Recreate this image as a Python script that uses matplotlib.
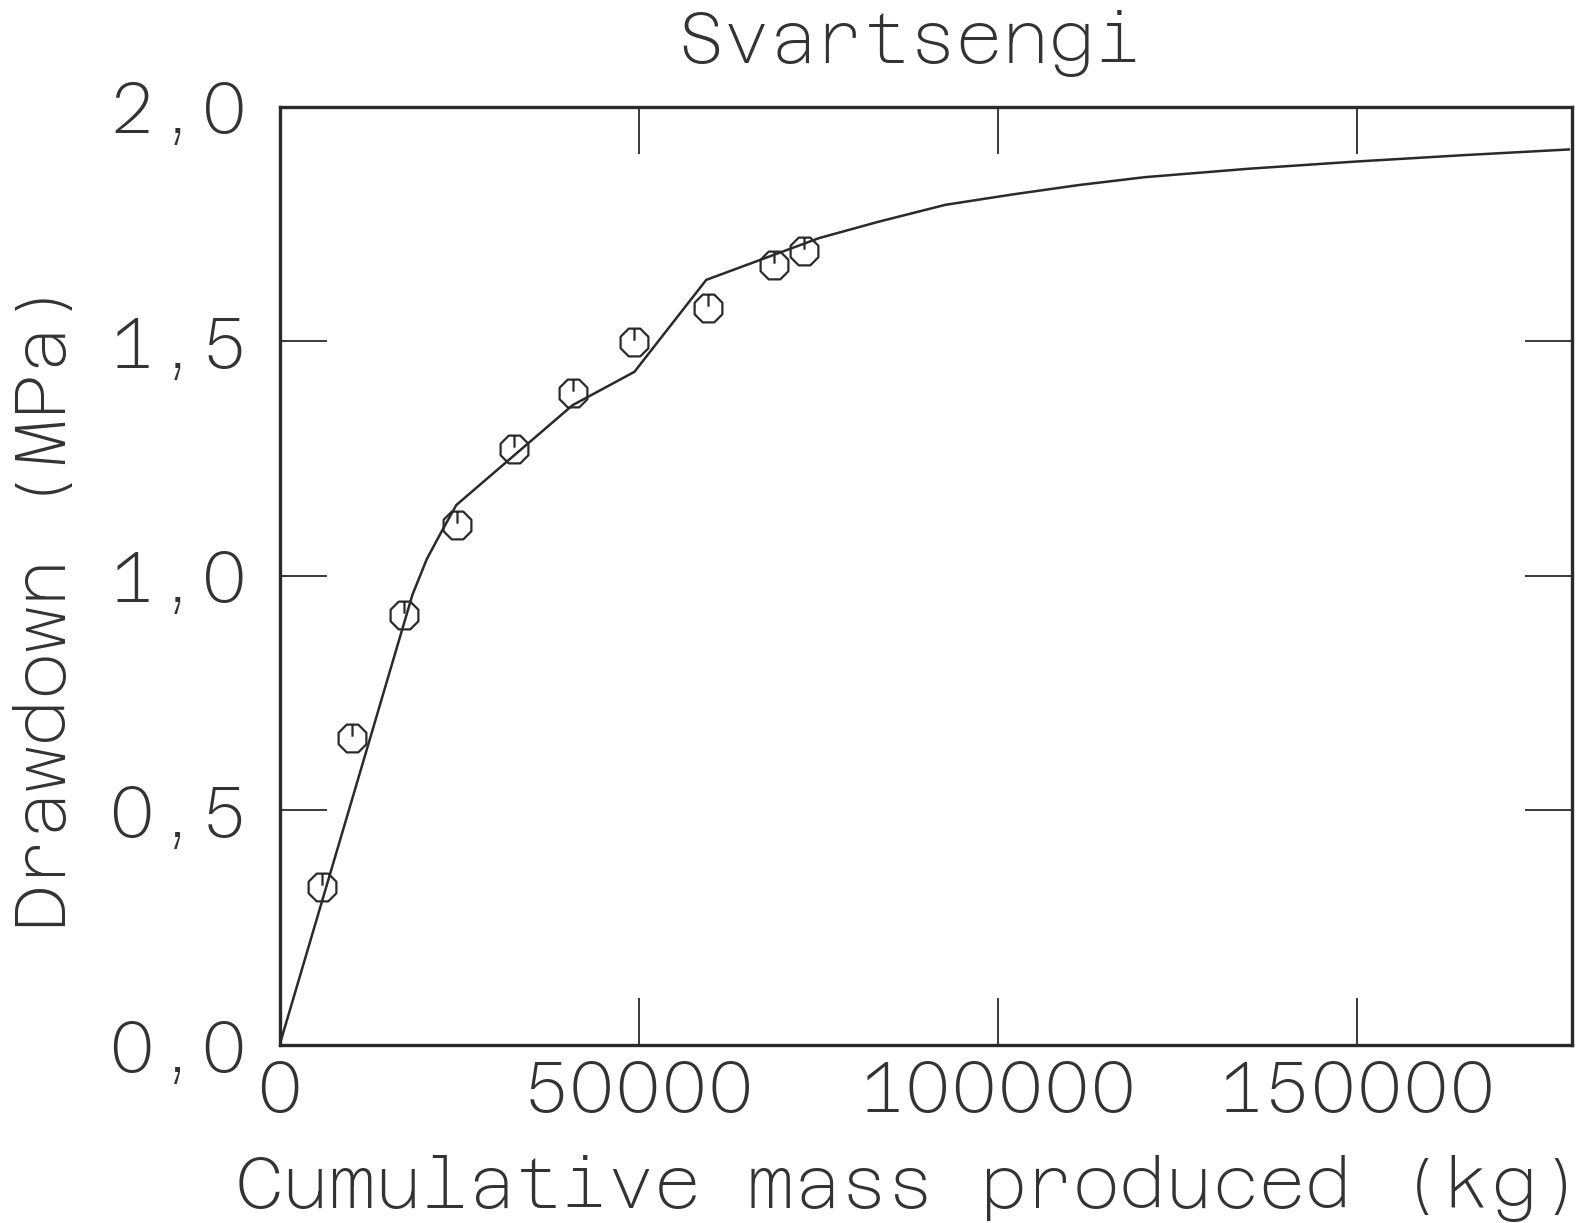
import numpy as np
import matplotlib.pyplot as plt
from matplotlib.path import Path

plt.rcParams['font.family'] = ['Azeret Mono', 'DejaVu Sans Mono']

# measured points (octagon markers)
mass = [5850, 10150, 17300, 24700, 32600, 40800, 49400, 59600, 68800, 73000]
drawdown = [0.336, 0.655, 0.917, 1.109, 1.270, 1.389, 1.499, 1.570, 1.663, 1.693]

# model curve
model_x = [0, 18500, 20500, 22600, 24600, 40800, 49400, 59400, 75100, 83400,
           92700, 102000, 111200, 120500, 135000, 149600, 165000, 179500]
model_y = [0, 0.960, 1.036, 1.096, 1.151, 1.364, 1.435, 1.631, 1.720, 1.755,
           1.791, 1.813, 1.833, 1.850, 1.868, 1.883, 1.897, 1.909]

x_ticks = [0, 50000, 100000, 150000]
x_tick_labels = ['0', '50000', '100000', '150000']
y_ticks = [0, 0.5, 1.0, 1.5, 2.0]
y_tick_labels = ['0,0', '0,5', '1,0', '1,5', '2,0']

ink = '#2a2a2a'
text_kw = dict(fontsize=51.5, fontweight=200, color='#333333')

# octagon marker with a little tick from the top edge down to the centre
ang = np.deg2rad(22.5 + 45 * np.arange(8))
verts = [(np.cos(a), np.sin(a)) for a in ang] + [(0, 0)]
codes = [Path.MOVETO] + [Path.LINETO] * 7 + [Path.CLOSEPOLY]
verts += [(0, np.sin(np.deg2rad(67.5))), (0, 0.12)]
codes += [Path.MOVETO, Path.LINETO]
octa = Path(verts, codes)

fig = plt.figure(figsize=(15.94, 12.23), dpi=100)
ax = fig.add_axes([0.1754, 0.1455, 0.8111, 0.7672])

ax.plot(model_x, model_y, color=ink, lw=1.8)
ax.plot(mass, drawdown, linestyle='none', marker=octa, ms=20,
        mfc='none', mec=ink, mew=1.6)

ax.set_xlim(0, 180000)
ax.set_ylim(0, 2.0)
ax.set_xticks(x_ticks)
ax.set_xticklabels(x_tick_labels, **text_kw)
ax.set_yticks(y_ticks)
ax.set_yticklabels(y_tick_labels, **text_kw)
ax.tick_params(direction='in', length=34, width=1.3, color=ink,
               top=True, right=True)
ax.tick_params(axis='x', pad=10)
ax.tick_params(axis='y', pad=23)
for s in ax.spines.values():
    s.set_linewidth(2.4)
    s.set_color(ink)

fig.text(0.571, 0.9485, 'Svartsengi', ha='center', va='baseline', **text_kw)
fig.text(0.571, 0.012, 'Cumulative mass produced (kg)', ha='center',
         va='baseline', **text_kw)
fig.text(0.029, 0.505, 'Drawdown (MPa)', rotation=90, ha='center',
         va='center', **text_kw)

fig.savefig('out.png', dpi=100)
